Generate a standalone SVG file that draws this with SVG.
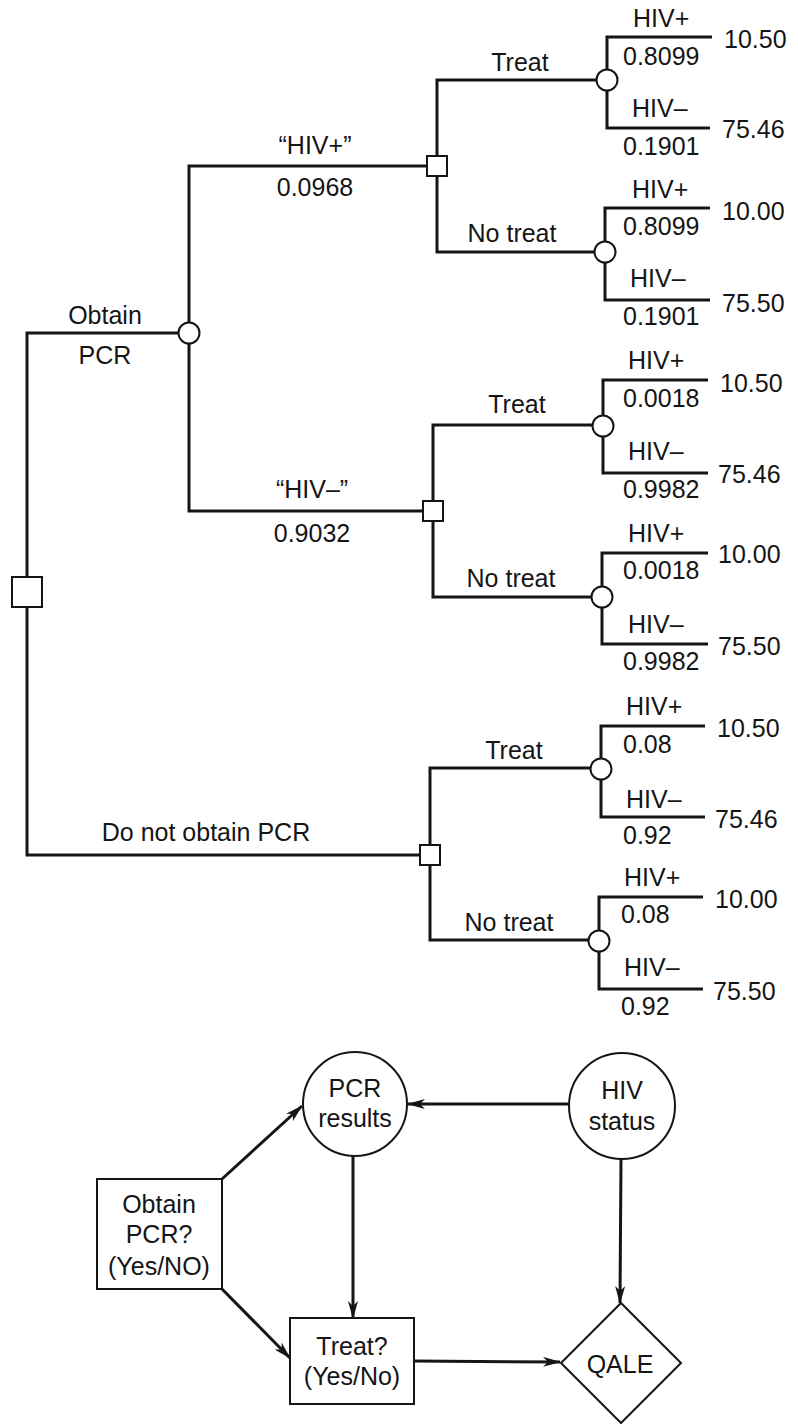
<svg xmlns="http://www.w3.org/2000/svg" width="798" height="1424" viewBox="0 0 798 1424">
<defs>
<style>
text{font-family:"Liberation Sans",Arial,sans-serif;font-size:25px;fill:#151515}
.m{text-anchor:middle}
.br{fill:none;stroke:#151515;stroke-width:3}
.ch{fill:#fff;stroke:#151515;stroke-width:2}
.dn{fill:#fff;stroke:#151515;stroke-width:2}
.ar{fill:none;stroke:#151515;stroke-width:3;marker-end:url(#ah)}
.bx{fill:#fff;stroke:#151515;stroke-width:2}
</style>
<marker id="ah" viewBox="0 0 18 10" markerWidth="18" markerHeight="10" refX="17" refY="5" orient="auto" markerUnits="userSpaceOnUse">
<path d="M0,0 L18,5 L0,10 L5,5 z" fill="#151515"/>
</marker>
</defs>
<rect width="798" height="1424" fill="#fff"/>

<g id="connectors">
<path class="br" d="M27,577 V333 H178.5"/>
<path class="br" d="M27,607 V855 H420"/>
<path class="br" d="M189,322.5 V166 H427"/>
<path class="br" d="M189,343.5 V511 H423"/>
<path class="br" d="M437,156 V80 H596.5"/>
<path class="br" d="M437,176 V252 H594.5"/>
<path class="br" d="M607,69.5 V37 H712"/>
<path class="br" d="M607,90.5 V128 H710"/>
<path class="br" d="M605,241.5 V208 H710"/>
<path class="br" d="M605,262.5 V300 H710"/>
<path class="br" d="M433,501 V425 H592.5"/>
<path class="br" d="M433,521 V597 H591.5"/>
<path class="br" d="M603,415.5 V380 H708"/>
<path class="br" d="M603,436.5 V473 H708"/>
<path class="br" d="M602,586.5 V553 H708"/>
<path class="br" d="M602,607.5 V644 H708"/>
<path class="br" d="M430,845 V768 H590.5"/>
<path class="br" d="M430,865 V940 H588.5"/>
<path class="br" d="M601,758.5 V726 H705"/>
<path class="br" d="M601,779.5 V817 H705"/>
<path class="br" d="M599,930.5 V897 H703"/>
<path class="br" d="M599,951.5 V989 H703"/>
<!-- branch labels -->
<text class="m" x="105" y="324">Obtain</text>
<text class="m" x="105" y="364">PCR</text>
<text class="m" x="206" y="841">Do not obtain PCR</text>
<text class="m" x="315" y="154">“HIV+”</text>
<text class="m" x="315" y="196">0.0968</text>
<text class="m" x="312" y="498">“HIV–”</text>
<text class="m" x="312" y="542">0.9032</text>
<text class="m" x="520" y="71">Treat</text>
<text class="m" x="512" y="242">No treat</text>
<text class="m" x="517" y="413">Treat</text>
<text class="m" x="511" y="587">No treat</text>
<text class="m" x="514" y="759">Treat</text>
<text class="m" x="509" y="931">No treat</text>
<text x="633" y="27">HIV+</text>
<text x="623" y="65">0.8099</text>
<text x="632" y="117">HIV–</text>
<text x="623" y="155">0.1901</text>
<text x="632" y="198">HIV+</text>
<text x="623" y="235">0.8099</text>
<text x="630" y="287">HIV–</text>
<text x="623" y="325">0.1901</text>
<text x="628" y="369">HIV+</text>
<text x="623" y="407">0.0018</text>
<text x="628" y="460">HIV–</text>
<text x="623" y="498">0.9982</text>
<text x="628" y="542">HIV+</text>
<text x="623" y="579">0.0018</text>
<text x="628" y="633">HIV–</text>
<text x="623" y="670">0.9982</text>
<text x="626" y="715">HIV+</text>
<text x="623" y="753">0.08</text>
<text x="626" y="808">HIV–</text>
<text x="623" y="844">0.92</text>
<text x="624" y="886">HIV+</text>
<text x="621" y="923">0.08</text>
<text x="624" y="976">HIV–</text>
<text x="621" y="1015">0.92</text>
<!-- influence diagram arrows -->
<path class="ar" d="M569,1104 L408,1104"/>
<path class="ar" d="M222,1179 L302,1106"/>
<path class="ar" d="M222,1289 L290,1358"/>
<path class="ar" d="M353,1156 L353,1318"/>
<path class="ar" d="M414,1361 L560,1362"/>
<path class="ar" d="M621,1159 L620,1303"/>
</g>

<g id="root-decision"><rect class="dn" x="12" y="577" width="30" height="30"/></g>
<g id="chance-pcr"><circle class="ch" cx="189" cy="333" r="10.5"/></g>
<g id="decision-hivpos"><rect class="dn" x="427" y="156" width="20" height="20"/></g>
<g id="decision-hivneg"><rect class="dn" x="423" y="501" width="20" height="20"/></g>
<g id="decision-nopcr"><rect class="dn" x="420" y="845" width="20" height="20"/></g>
<g id="chance-1"><circle class="ch" cx="607" cy="80" r="10.5"/></g>
<g id="chance-2"><circle class="ch" cx="605" cy="252" r="10.5"/></g>
<g id="chance-3"><circle class="ch" cx="603" cy="426" r="10.5"/></g>
<g id="chance-4"><circle class="ch" cx="602" cy="597" r="10.5"/></g>
<g id="chance-5"><circle class="ch" cx="601" cy="769" r="10.5"/></g>
<g id="chance-6"><circle class="ch" cx="599" cy="941" r="10.5"/></g>

<g id="leaf-1"><text x="724" y="48">10.50</text></g>
<g id="leaf-2"><text x="722" y="138">75.46</text></g>
<g id="leaf-3"><text x="722" y="220">10.00</text></g>
<g id="leaf-4"><text x="722" y="312">75.50</text></g>
<g id="leaf-5"><text x="720" y="392">10.50</text></g>
<g id="leaf-6"><text x="718" y="483">75.46</text></g>
<g id="leaf-7"><text x="718" y="563">10.00</text></g>
<g id="leaf-8"><text x="718" y="655">75.50</text></g>
<g id="leaf-9"><text x="717" y="737">10.50</text></g>
<g id="leaf-10"><text x="715" y="828">75.46</text></g>
<g id="leaf-11"><text x="715" y="908">10.00</text></g>
<g id="leaf-12"><text x="713" y="1000">75.50</text></g>

<g id="pcr-results"><circle class="bx" cx="355" cy="1104" r="52"/>
<text class="m" x="355" y="1097">PCR</text><text class="m" x="355" y="1127">results</text></g>
<g id="hiv-status"><circle class="bx" cx="622" cy="1106" r="53"/>
<text class="m" x="622" y="1099">HIV</text><text class="m" x="622" y="1130">status</text></g>
<g id="obtain-pcr"><rect class="bx" x="97" y="1179" width="125" height="110"/>
<text class="m" x="159" y="1213">Obtain</text><text class="m" x="159" y="1243">PCR?</text><text class="m" x="159" y="1275">(Yes/NO)</text></g>
<g id="treat"><rect class="bx" x="290" y="1318" width="124" height="86"/>
<text class="m" x="352" y="1355">Treat?</text><text class="m" x="352" y="1385">(Yes/No)</text></g>
<g id="qale"><path class="bx" d="M621,1303 L681,1363 L621,1423 L561,1363 Z"/>
<text class="m" x="620" y="1373">QALE</text></g>
</svg>
